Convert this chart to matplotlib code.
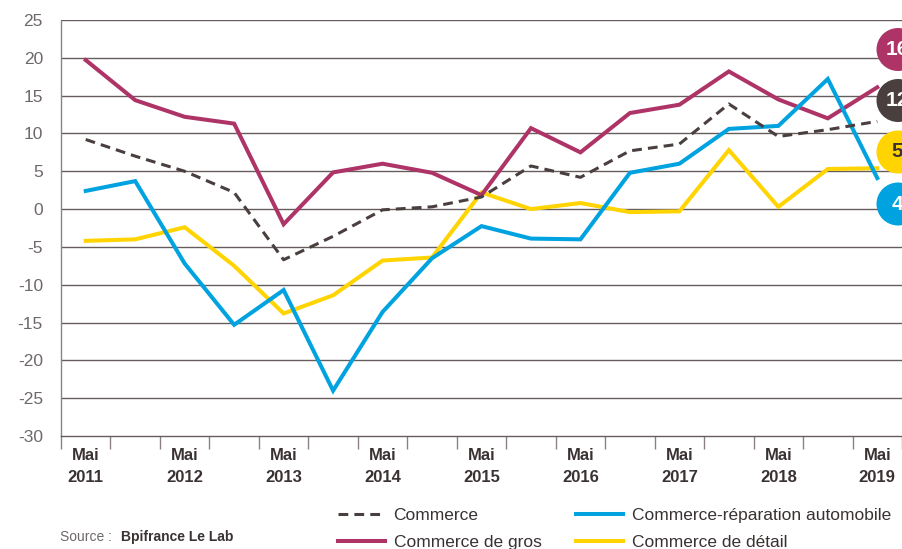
import matplotlib
matplotlib.use("Agg")
import matplotlib.pyplot as plt
from matplotlib.patches import Ellipse
import numpy as np

plt.rcParams['font.family'] = ['Liberation Sans', 'DejaVu Sans']

periods = ["Mai\n2011", "", "Mai\n2012", "", "Mai\n2013", "", "Mai\n2014", "", "Mai\n2015", "",
           "Mai\n2016", "", "Mai\n2017", "", "Mai\n2018", "", "Mai\n2019"]
commerce = [9.2, 7.0, 5.0, 2.2, -6.7, -3.6, -0.1, 0.3, 1.6, 5.7, 4.2, 7.7, 8.6, 13.9, 9.6, 10.5, 11.6]
gros = [19.7, 14.4, 12.2, 11.3, -2.0, 4.85, 6.0, 4.8, 1.85, 10.7, 7.5, 12.7, 13.8, 18.2, 14.5, 12.0, 16.1]
auto = [2.4, 3.7, -7.2, -15.3, -10.7, -24.0, -13.6, -6.5, -2.25, -3.9, -4.0, 4.8, 6.0, 10.6, 11.0, 17.2, 4.1]
detail = [-4.2, -4.0, -2.4, -7.5, -13.8, -11.4, -6.8, -6.4, 2.2, 0.0, 0.8, -0.4, -0.3, 7.8, 0.3, 5.3, 5.4]
yticks = list(range(-30, 30, 5))

C_DARK = '#4a3f3f'
C_GROS = '#ae3467'
C_AUTO = '#00a3df'
C_DET = '#ffd400'
C_GRID = '#665c5c'
C_TXT = '#6f6868'

W, H = 903, 549
fig = plt.figure(figsize=(W / 100, H / 100), dpi=100)
ax = fig.add_axes([61 / W, 113 / H, (902 - 61) / W, (436 - 20) / H])

x = np.arange(len(periods))
ax.plot(x, gros, color=C_GROS, lw=2.9, solid_joinstyle='miter', label='Commerce de gros', zorder=3)
ax.plot(x, commerce, color=C_DARK, lw=2.2, dashes=(3.2, 2.0), label='Commerce', zorder=4)
ax.plot(x, auto, color=C_AUTO, lw=2.9, solid_joinstyle='miter', label='Commerce-réparation automobile', zorder=3)
ax.plot(x, detail, color=C_DET, lw=2.9, solid_joinstyle='miter', label='Commerce de détail', zorder=2)

ax.set_xlim(-0.5, len(periods) - 0.5)
ax.set_ylim(-30, 25)
ax.set_yticks(yticks)
ax.set_yticklabels([str(v) for v in yticks], color=C_TXT, fontsize=12.5)
ax.tick_params(axis='y', length=0, pad=13)
ax.set_xticks(x)
ax.set_xticklabels(periods, fontsize=12, fontweight='bold', color='#3a3232', linespacing=1.55)
ax.tick_params(axis='x', which='major', length=0, pad=9)
ax.set_xticks(np.arange(-0.5, len(periods), 1.0), minor=True)
ax.tick_params(axis='x', which='minor', length=9, width=1, color='#8a8282', direction='out')
for v in yticks[1:]:
    ax.axhline(v, color=C_GRID, lw=1.0, zorder=1)
for s in ['top', 'right']:
    ax.spines[s].set_visible(False)
ax.spines['left'].set_color('#8a8282')
ax.spines['bottom'].set_color(C_GRID)
ax.spines['left'].set_linewidth(1.0)
ax.spines['bottom'].set_linewidth(1.0)

# Legend
handles, labels = ax.get_legend_handles_labels()
order = [1, 0, 2, 3]
leg = fig.legend([handles[i] for i in order], [labels[i] for i in order], ncol=2,
                 loc='upper left', bbox_to_anchor=(338 / W, 1 - 508 / H), frameon=False,
                 fontsize=12.5, handlelength=2.7, handletextpad=0.5, columnspacing=2.0,
                 labelspacing=0.68, borderpad=0, borderaxespad=0)
for t in leg.get_texts():
    t.set_color('#3a3232')

# Source
fig.text(60 / W, 1 - 537 / H, 'Source : ', fontsize=10, color=C_TXT, va='center', ha='left')
fig.text(121 / W, 1 - 537 / H, 'Bpifrance Le Lab', fontsize=10, color='#3a3232',
         fontweight='bold', va='center', ha='left')

# Last-value bubbles
bubbles = [(gros, C_GROS, 'white', 49.5), (commerce, C_DARK, 'white', 100.5),
           (detail, C_DET, '#3a3232', 152), (auto, C_AUTO, 'white', 204)]
for series, fc, tc, yc in bubbles:
    e = Ellipse((898 / W, 1 - yc / H), 43 / W, 43 / H, transform=fig.transFigure,
                facecolor=fc, edgecolor='none', clip_on=False)
    fig.add_artist(e)
    fig.text(897 / W, 1 - yc / H, str(int(round(series[-1]))), fontsize=15, fontweight='bold',
             color=tc, ha='center', va='center')

fig.savefig('out.png', dpi=100)
